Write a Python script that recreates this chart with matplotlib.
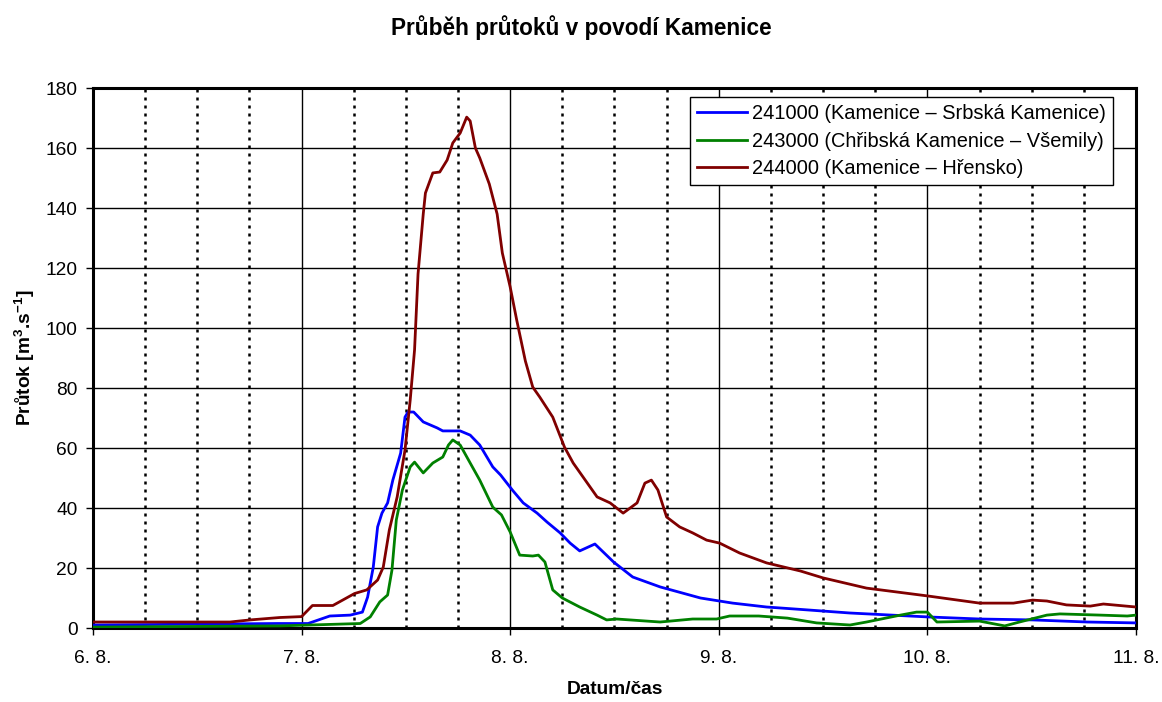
import matplotlib
matplotlib.use('Agg')
import matplotlib.pyplot as plt

plt.rcParams['font.family'] = ['Liberation Sans', 'DejaVu Sans']
plt.rcParams['mathtext.default'] = 'regular'

# hours since 6. 8. 00:00 and discharge values
t_241000 = [0, 21.25, 24.75, 27.25, 29.6, 31, 31.6, 32.25, 32.75, 33.25, 33.9, 34.5, 35.4, 35.9,
            36.25, 36.9, 38, 39.6, 40.25, 42.25, 43.4, 44.5, 46, 46.9, 48.25, 49.5, 51.1, 52.25,
            53.75, 54.9, 56, 57.75, 59.9, 62.1, 65.25, 69.9, 73.6, 77.5, 81.4, 87.1, 96, 102,
            108.1, 114.4, 120]
q_241000 = [1.0, 1.5, 1.5, 4, 4.3, 5.3, 10.3, 20.3, 33.7, 38.3, 41.7, 49.3, 58.3, 70.3,
            72, 72, 68.7, 66.7, 65.7, 65.7, 64.3, 61, 53.7, 51, 46, 41.7, 38.3, 35.3,
            31.7, 28.3, 25.7, 28, 22, 17, 13.7, 10, 8.3, 7, 6.2, 5, 3.7, 3,
            2.7, 2, 1.7]

t_243000 = [0, 21.5, 30.75, 31.9, 33, 33.9, 34.4, 34.9, 35.6, 36.5, 37, 38, 39.1, 40.25,
            40.9, 41.4, 42.25, 43.4, 44.5, 46, 47, 48, 49.1, 50.6, 51.25, 52, 52.9, 54,
            56, 58, 59.1, 60.25, 65.25, 69, 71.75, 73.25, 76.6, 79.9, 83.25, 87.1, 89, 92.9,
            94.75, 96, 97.1, 102, 104.9, 106.6, 109.75, 111.25, 115.9, 119, 120]
q_243000 = [0.3, 0.7, 1.5, 3.7, 8.7, 11, 19.3, 36, 46, 53.7, 55.3, 51.7, 55, 57,
            61, 62.7, 61, 55, 49.3, 40.3, 37.7, 32, 24.3, 24, 24.3, 22, 12.7, 10,
            7, 4.3, 2.7, 3, 2, 3, 3, 4, 4, 3.3, 1.7, 1, 2, 4.3,
            5.3, 5.3, 2, 2.3, 0.7, 2, 4.3, 4.7, 4.3, 4, 4.3]

t_244000 = [0, 15.75, 18.1, 21.5, 24, 25.25, 27.6, 30.1, 31.5, 32.75, 33.4, 34.1, 35, 35.9,
            36.5, 37, 37.4, 38, 38.25, 39.1, 39.9, 40.75, 41.4, 42.25, 43, 43.4, 44, 44.5,
            45.6, 46.5, 47.1, 48, 48.75, 49.75, 50.6, 51.4, 52.9, 54.25, 55.25, 58, 59.5, 61,
            62.6, 63.5, 64.25, 65, 66, 67.5, 69, 70.6, 72.1, 74.4, 77.5, 81.4, 84, 89,
            96, 102, 105.9, 108.1, 109.75, 112, 114.75, 116.25, 120]
q_244000 = [2.0, 2.0, 2.7, 3.5, 3.8, 7.5, 7.5, 11.5, 12.7, 16, 20.3, 32.7, 43.7, 59.3,
            76, 92.7, 118, 138, 145, 151.7, 152, 156, 161.7, 165, 170.3, 169, 160, 156.7,
            148, 138, 125, 113.7, 102.7, 89, 80.3, 77, 70.3, 60.3, 55, 43.7, 41.7, 38.3,
            41.7, 48.3, 49.3, 46, 37, 33.7, 31.7, 29.3, 28.3, 25, 21.7, 19, 16.7, 13.3,
            10.7, 8.3, 8.3, 9.3, 9, 7.7, 7.3, 8, 7]

day_labels = ['6. 8.', '7. 8.', '8. 8.', '9. 8.', '10. 8.', '11. 8.']

fig = plt.figure(figsize=(11.62, 7.02), dpi=100)
ax = fig.add_axes([0.080, 0.1054, 0.8976, 0.7692])

# grid: solid at days and every 20, dotted every 6 hours
for h in range(6, 120, 6):
    if h % 24 == 0:
        ax.axvline(h, color='black', lw=1.0, zorder=1)
    else:
        ax.axvline(h, color='black', lw=1.8, linestyle=(0, (1.2, 2.0)), zorder=1)
for v in range(20, 180, 20):
    ax.axhline(v, color='black', lw=1.0, zorder=1)

ax.plot(t_241000, q_241000, color='#0000FF', lw=2, label='241000 (Kamenice – Srbská Kamenice)', zorder=3)
ax.plot(t_243000, q_243000, color='#008000', lw=2, label='243000 (Chřibská Kamenice – Všemily)', zorder=3)
ax.plot(t_244000, q_244000, color='#800000', lw=2, label='244000 (Kamenice – Hřensko)', zorder=3)

ax.set_xlim(0, 120)
ax.set_ylim(0, 180)
ax.set_xticks(range(0, 121, 24))
ax.set_xticklabels(day_labels)
ax.set_yticks(range(0, 181, 20))
ax.tick_params(axis='both', labelsize=13.8, direction='out', length=5, width=1)
ax.tick_params(axis='x', pad=11)
ax.tick_params(axis='y', pad=6)

for s in ax.spines.values():
    s.set_linewidth(2.2)
    s.set_color('black')

ax.set_xlabel('Datum/čas', fontsize=13.8, fontweight='bold', labelpad=10)
ax.set_ylabel('Průtok [m$^{3}$.s$^{-1}$]', fontsize=13.8, fontweight='bold', labelpad=6)
fig.suptitle('Průběh průtoků v povodí Kamenice', fontsize=16.3, fontweight='bold', y=0.978)

leg = ax.legend(loc='upper right', bbox_to_anchor=(0.978, 0.983), borderaxespad=0, fontsize=14.4,
                handlelength=2.5, handletextpad=0.25, borderpad=0.35, labelspacing=0.42,
                fancybox=False, framealpha=1, edgecolor='black')
leg.get_frame().set_linewidth(1.0)

plt.savefig('out.png', dpi=100)
